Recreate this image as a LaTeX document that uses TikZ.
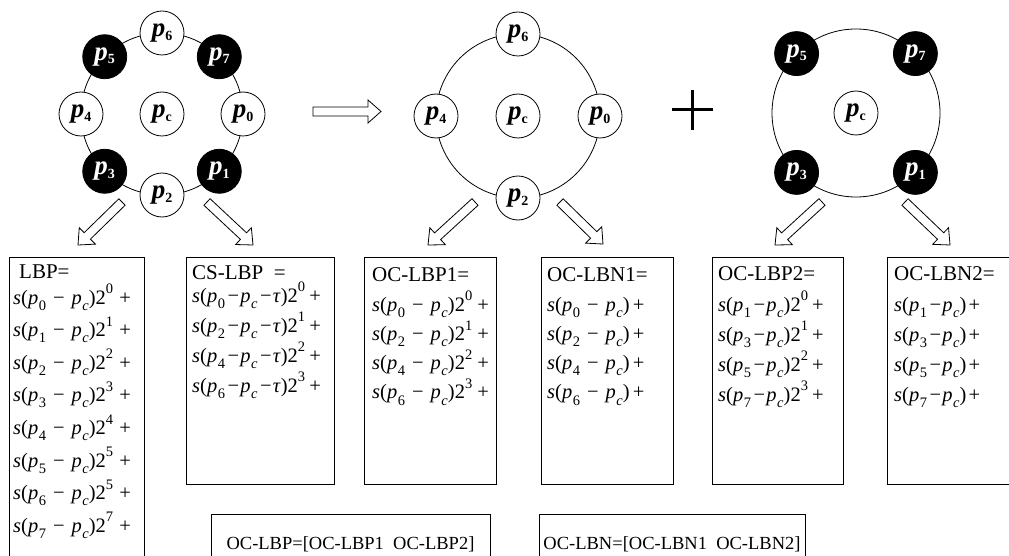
\documentclass[tikz,border=0pt]{standalone}
\usepackage{fontspec}
\setmainfont{Liberation Serif}
\usetikzlibrary{calc}
\newcommand\PL[1]{\textbf{\textit{p}}\raisebox{-0.3ex}{\fontsize{14}{14}\selectfont\bfseries #1}}
\newcommand\Sb[1]{\raisebox{-0.3em}{\fontsize{14.5}{14.5}\selectfont #1}}
\newcommand\Sp[1]{\raisebox{0.5em}{\fontsize{14.5}{14.5}\selectfont #1}}
\newcommand\MI{\kern0.34em−\kern0.34em}
\newcommand\MT{\kern0.12em−\kern0.06em}
\newcommand\Pk[1]{\textit{p}\kern0.03em\Sb{#1}}
\newcommand\Pc{\textit{p}\kern0.03em\Sb{\textit{c}}}
\newcommand\Sx{\textit{s}}
\newcommand\hollowarrow[3]{%
  \coordinate (#3) at ($(#2)!13pt!(#1)$);
  \draw[harrow] ($(#1)!4.5pt!90:(#2)$) -- ($(#3)!4.5pt!90:(#2)$) -- ($(#3)!11.5pt!90:(#2)$) -- (#2) -- ($(#3)!11.5pt!-90:(#2)$) -- ($(#3)!4.5pt!-90:(#2)$) -- ($(#1)!4.5pt!-90:(#2)$) -- cycle;}
\tikzset{
  ring/.style={draw, line width=0.8pt},
  wn/.style={circle, draw, line width=0.8pt, fill=white, minimum size=44pt, inner sep=0pt, font=\fontsize{27}{27}\selectfont},
  bn/.style={wn, fill=black, text=white},
  boxr/.style={draw, line width=0.8pt, rectangle, anchor=north west, inner sep=0pt},
  ft/.style={anchor=base west, inner sep=0pt, font=\fontsize{20.5}{22}\selectfont},
  tt/.style={anchor=base west, inner sep=0pt, font=\fontsize{21}{24}\selectfont},
  bt/.style={anchor=base, inner sep=0pt, font=\fontsize{18.5}{22}\selectfont},
  harrow/.style={draw, fill=white, line width=0.8pt, line join=miter},
}
\begin{document}
\begin{tikzpicture}[x=1pt,y=1pt]
\useasboundingbox (0,0) rectangle (1009,-556);
\clip (0,0) rectangle (1009,-556);
% ---------- left ring (8 neighbours)
\coordinate (C1) at (162,-114);
\draw[ring] (C1) circle (81);
\node[wn] (Lpc) at (C1) {\PL{c}};
\node[wn] (Lp0) at ($(C1)+(0:81)$) {\PL{0}};
\node[bn] (Lp7) at ($(C1)+(45:81)$) {\PL{7}};
\node[wn] (Lp6) at ($(C1)+(90:81)$) {\PL{6}};
\node[bn] (Lp5) at ($(C1)+(135:81)$) {\PL{5}};
\node[wn] (Lp4) at ($(C1)+(180:81)$) {\PL{4}};
\node[bn] (Lp3) at ($(C1)+(225:81)$) {\PL{3}};
\node[wn] (Lp2) at ($(C1)+(270:81)$) {\PL{2}};
\node[bn] (Lp1) at ($(C1)+(315:81)$) {\PL{1}};
% ---------- middle ring
\coordinate (C2) at (518,-116);
\draw[ring] (C2) circle (82);
\node[wn] (Mpc) at (C2) {\PL{c}};
\node[wn] (Mp0) at ($(C2)+(0:82)$) {\PL{0}};
\node[wn] (Mp6) at ($(C2)+(90:82)$) {\PL{6}};
\node[wn] (Mp4) at ($(C2)+(180:82)$) {\PL{4}};
\node[wn] (Mp2) at ($(C2)+(270:82)$) {\PL{2}};
% ---------- right ring
\coordinate (C3) at (856,-113);
\draw[ring] (C3) circle (84);
\node[wn] (Rpc) at (C3) {\PL{c}};
\node[bn] (Rp7) at ($(C3)+(45:84)$) {\PL{7}};
\node[bn] (Rp5) at ($(C3)+(135:84)$) {\PL{5}};
\node[bn] (Rp3) at ($(C3)+(225:84)$) {\PL{3}};
\node[bn] (Rp1) at ($(C3)+(315:84)$) {\PL{1}};
% ---------- implies arrow and plus
\coordinate (H0) at (313,-111.5);
\coordinate (H1) at (381,-111.5);
\hollowarrow{H0}{H1}{Hh}
\coordinate (plL) at (672,-110);
\coordinate (plR) at (713,-110);
\coordinate (plT) at (692.5,-90);
\coordinate (plB) at (692.5,-130);
\draw[line width=3pt] (plL) -- (plR) (plT) -- (plB);
% ---------- boxes
\node[boxr, minimum width=135pt, minimum height=400pt] (bLBP) at (9,-257) {};
\node[boxr, minimum width=148pt, minimum height=227pt] (bCS) at (186,-257) {};
\node[boxr, minimum width=132pt, minimum height=227pt] (bP1) at (364,-257) {};
\node[boxr, minimum width=132pt, minimum height=227pt] (bN1) at (541,-257) {};
\node[boxr, minimum width=131pt, minimum height=227pt] (bP2) at (712,-257) {};
\node[boxr, minimum width=200pt, minimum height=227pt] (bN2) at (887,-257) {};
\node[boxr, minimum width=279pt, minimum height=100pt] (bAll1) at (211,-514) {};
\node[boxr, minimum width=266pt, minimum height=100pt] (bAll2) at (539,-514) {};
% ---------- diagonal arrows
\coordinate (a1s) at (122,-202); \coordinate (a1e) at (78,-245);
\coordinate (a2s) at (207,-202); \coordinate (a2e) at (253,-245);
\coordinate (a3s) at (475,-202); \coordinate (a3e) at (428,-245);
\coordinate (a4s) at (560,-202); \coordinate (a4e) at (603,-244);
\coordinate (a5s) at (822,-202); \coordinate (a5e) at (775,-245);
\coordinate (a6s) at (905,-202); \coordinate (a6e) at (950,-245);
\hollowarrow{a1s}{a1e}{a1h}
\hollowarrow{a2s}{a2e}{a2h}
\hollowarrow{a3s}{a3e}{a3h}
\hollowarrow{a4s}{a4e}{a4h}
\hollowarrow{a5s}{a5e}{a5h}
\hollowarrow{a6s}{a6e}{a6h}
% ---------- titles
\node[tt] (tLBP) at (19,-278) {LBP=};
\node[tt] (tCS) at (192,-279) {CS-LBP\ \ =};
\node[tt] (tP1) at (372,-281) {OC-LBP1=};
\node[tt] (tN1) at (547,-281) {OC-LBN1=};
\node[tt] (tP2) at (718,-280) {OC-LBP2=};
\node[tt] (tN2) at (894,-280) {OC-LBN2=};
% ---------- formulas
\foreach \k/\e [count=\i from 0] in {0/0,1/1,2/2,3/3,4/4,5/5,6/5,7/7}
  \node[ft] (fL\k) at (13,{-304-32.6*\i}) {\Sx(\Pk{\k}\MI\Pc)2\Sp{\e}\kern0.3em+};
\foreach \k/\e [count=\i from 0] in {0/0,2/1,4/2,6/3}
  \node[ft] (fC\k) at (192,{-302-30*\i}) {\Sx(\Pk{\k}\MT\Pc\MT\textit{τ})2\Sp{\e}\kern0.2em+};
\foreach \k/\e [count=\i from 0] in {0/0,2/1,4/2,6/3}
  \node[ft] (fP\k) at (372,{-311-29.3*\i}) {\Sx(\Pk{\k}\MI\Pc)2\Sp{\e}\kern0.25em+};
\foreach \k [count=\i from 0] in {0,2,4,6}
  \node[ft] (fN\k) at (547,{-311-29.3*\i}) {\Sx(\Pk{\k}\MI\Pc)\kern0.15em+};
\foreach \k/\e [count=\i from 0] in {1/0,3/1,5/2,7/3}
  \node[ft] (fQ\k) at (718,{-311-30*\i}) {\Sx(\Pk{\k}\MT\Pc)2\Sp{\e}\kern0.2em+};
\foreach \k [count=\i from 0] in {1,3,5,7}
  \node[ft] (fM\k) at (894,{-311-30*\i}) {\Sx(\Pk{\k}\MT\Pc)\kern0.1em+};
% ---------- bottom
\node[bt] (all1) at (350.5,-549) {OC-LBP=[OC-LBP1\ \ OC-LBP2]};
\node[bt] (all2) at (672,-549) {OC-LBN=[OC-LBN1\ \ OC-LBN2]};
\end{tikzpicture}
\end{document}
